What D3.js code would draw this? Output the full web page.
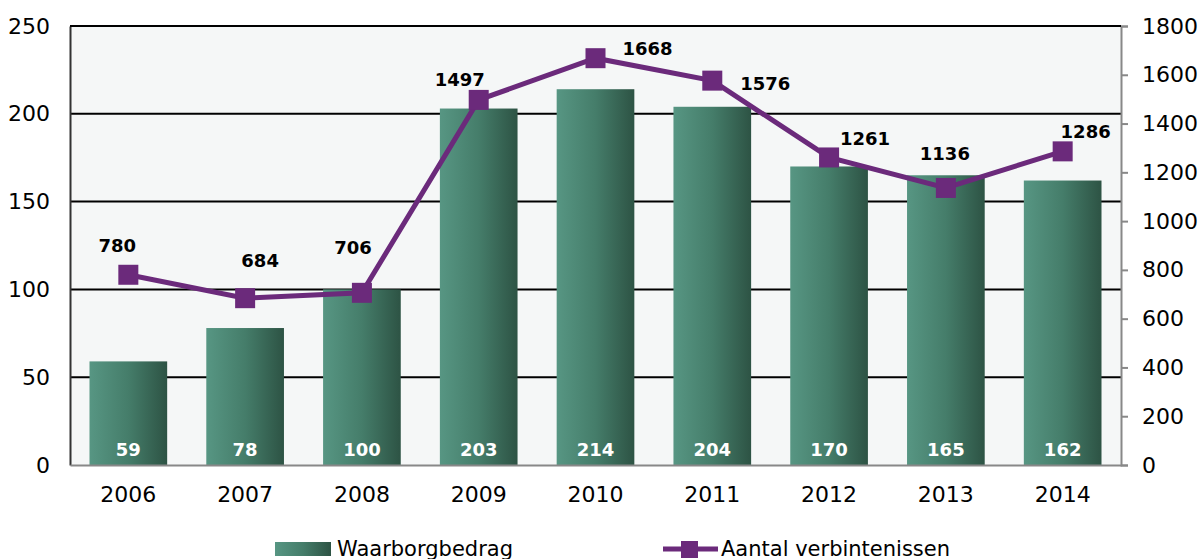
<!DOCTYPE html>
<html><head><meta charset="utf-8">
<script src="https://cdn.jsdelivr.net/npm/d3@7"></script>
<style>body{margin:0;background:#fff;}svg{display:block;font-family:"DejaVu Sans",Verdana,sans-serif;}</style>
</head><body><svg id="c" width="1200" height="559"></svg>
<script>
const years = ["2006","2007","2008","2009","2010","2011","2012","2013","2014"];
const waarborg = [59,78,100,203,214,204,170,165,162];
const verbintenissen = [780,684,706,1497,1668,1576,1261,1136,1286];
const leftTicks = [0,50,100,150,200,250];
const rightTicks = [0,200,400,600,800,1000,1200,1400,1600,1800];
// label offsets (layout) for line labels: [dx, dy] relative to marker
const lineLabelOffsets = [[-11,-23],[15,-31],[-9,-39],[-19,-14],[52,-3],[53,9],[36,-12],[-1,-28],[23,-13]];

const svg = d3.select("#c");
const m = {l:70, r:1121, t:26, b:465};
const FONT = "DejaVu Sans, Verdana, sans-serif";
const x = d3.scaleBand().domain(years).range([m.l,m.r]).paddingInner(0.335).paddingOuter(0.167);
const yL = d3.scaleLinear().domain([0,250]).range([m.b,m.t]);
const yR = d3.scaleLinear().domain([0,1800]).range([m.b,m.t]);

const defs = svg.append("defs");
const g = defs.append("linearGradient").attr("id","bg").attr("x1","0").attr("x2","1");
g.append("stop").attr("offset","0").attr("stop-color","#579683");
g.append("stop").attr("offset","0.5").attr("stop-color","#457d6a");
g.append("stop").attr("offset","1").attr("stop-color","#2d5344");

svg.append("rect").attr("x",m.l).attr("y",m.t).attr("width",m.r-m.l).attr("height",m.b-m.t).attr("fill","#f5f7f7");

// gridlines
svg.append("g").selectAll("line").data(leftTicks.filter(d=>d>0)).join("line")
  .attr("x1",m.l).attr("x2",m.r).attr("y1",d=>yL(d)).attr("y2",d=>yL(d))
  .attr("stroke","#000").attr("stroke-width",2);

// bars
svg.append("g").selectAll("rect").data(waarborg).join("rect")
  .attr("x",(d,i)=>x(years[i])).attr("width",x.bandwidth())
  .attr("y",d=>yL(d)).attr("height",d=>yL(0)-yL(d)).attr("fill","url(#bg)");

svg.append("g").selectAll("text").data(waarborg).join("text")
  .attr("x",(d,i)=>x(years[i])+x.bandwidth()/2).attr("y",456)
  .attr("text-anchor","middle").attr("fill","#fff").attr("font-weight","bold").attr("font-size",18)
  .text(d=>d);

// axes
const axL = svg.append("g").attr("transform",`translate(${m.l},0)`)
  .call(d3.axisLeft(yL).tickValues(leftTicks).tickSize(0).tickPadding(20));
axL.select(".domain").attr("stroke","#333").attr("stroke-width",2);
axL.selectAll("text").attr("font-size",22).attr("fill","#000").attr("font-family",FONT);

const axR = svg.append("g").attr("transform",`translate(${m.r},0)`)
  .call(d3.axisRight(yR).tickValues(rightTicks).tickFormat(d3.format("d")).tickSize(7).tickPadding(14));
axR.select(".domain").attr("stroke","#888").attr("stroke-width",2);
axR.selectAll("line").attr("stroke","#888").attr("stroke-width",2);
axR.selectAll("text").attr("font-size",22).attr("fill","#000").attr("font-family",FONT);

const axB = svg.append("g").attr("transform",`translate(0,${m.b})`)
  .call(d3.axisBottom(x).tickSize(0).tickPadding(21));
axB.select(".domain").attr("stroke","#888").attr("stroke-width",2);
axB.selectAll("text").attr("font-size",22).attr("fill","#000").attr("font-family",FONT);

// top border
svg.append("line").attr("x1",m.l).attr("x2",m.r).attr("y1",m.t).attr("y2",m.t).attr("stroke","#000").attr("stroke-width",2);

// line
const cx = (i)=>x(years[i])+x.bandwidth()/2;
svg.append("path").datum(verbintenissen)
  .attr("d",d3.line().x((d,i)=>cx(i)).y(d=>yR(d)))
  .attr("fill","none").attr("stroke","#6b2a7b").attr("stroke-width",5);
svg.append("g").selectAll("rect").data(verbintenissen).join("rect")
  .attr("x",(d,i)=>cx(i)-10).attr("y",d=>yR(d)-10).attr("width",20).attr("height",20)
  .attr("fill","#6b2a7b");
svg.append("g").selectAll("text").data(verbintenissen).join("text")
  .attr("x",(d,i)=>cx(i)+lineLabelOffsets[i][0]).attr("y",(d,i)=>yR(d)+lineLabelOffsets[i][1])
  .attr("text-anchor","middle").attr("font-weight","bold").attr("font-size",18).attr("fill","#000")
  .text(d=>d);

// legend
svg.append("rect").attr("x",275).attr("y",542).attr("width",56).attr("height",14).attr("fill","url(#bg)");
svg.append("text").attr("x",337).attr("y",556).attr("font-size",21).text("Waarborgbedrag");
svg.append("line").attr("x1",663).attr("x2",718).attr("y1",549).attr("y2",549).attr("stroke","#6b2a7b").attr("stroke-width",5);
svg.append("rect").attr("x",681).attr("y",541).attr("width",17).attr("height",17).attr("fill","#6b2a7b");
svg.append("text").attr("x",721).attr("y",556).attr("font-size",21).text("Aantal verbintenissen");
</script></body></html>
